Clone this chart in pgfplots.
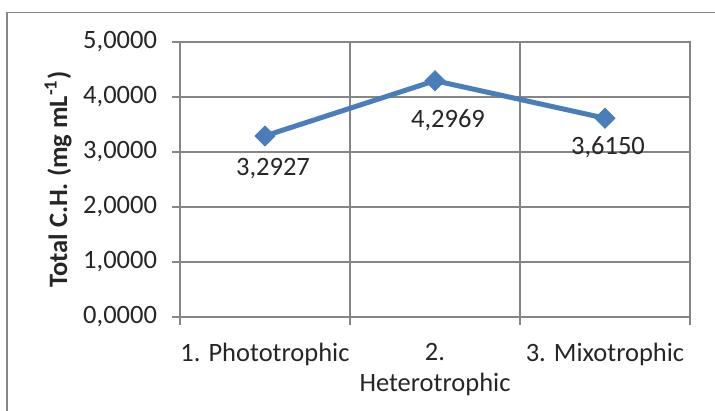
\documentclass[border=0pt]{standalone}
\usepackage{pgfplots}
\usepackage{pgfplotstable}
\pgfplotsset{compat=1.18}
\usepackage{fontspec}
\setmainfont{Carlito}
\definecolor{exblue}{RGB}{74,126,187}
\definecolor{exgrid}{RGB}{134,134,134}
\definecolor{extext}{RGB}{38,38,38}
\pgfplotstableread{
x y lab dx dy
0.5 3.2927 3,2927 4 -16.5
1.5 4.2969 4,2969 6.5 -20
2.5 3.6150 3,6150 1.5 -14.5
}\datatable
\begin{document}
\begin{tikzpicture}
\useasboundingbox (0,0) rectangle (357.5bp,205.5bp);
\draw[exgrid, line width=0.6bp] (3.5bp,-5bp) -- (3.5bp,199.3bp) -- (365bp,199.3bp);
\begin{axis}[
  at={(90bp,47bp)}, anchor=south west, scale only axis,
  width=255bp, height=137.5bp,
  xmin=0, xmax=3, ymin=0, ymax=5,
  xtick={0,1,2,3}, x tick label as interval,
  xticklabels={1. Phototrophic, {2.\\Heterotrophic}, 3. Mixotrophic},
  ytick={0,1,2,3,4,5},
  grid=major, grid style={exgrid, line width=0.6bp},
  axis line style={exgrid, line width=0.6bp},
  tick style={exgrid, line width=0.6bp},
  tick align=outside, major tick length=4bp,
  xtick pos=bottom, ytick pos=left,
  font=\fontsize{13.3}{15.5}\selectfont,
  xticklabel style={align=center, text=extext, yshift=-5.5bp, font=\fontsize{13.3}{15.5}\selectfont},
  yticklabel style={text=extext, xshift=-4bp, font=\fontsize{13.3}{15.5}\selectfont,
    /pgf/number format/.cd, fixed, fixed zerofill, precision=4, use comma, 1000 sep={}, assume math mode=true},
  ylabel={\textbf{Total C.H. (mg mL\textsuperscript{-1})}},
  ylabel style={at={(axis description cs:-0.239,0.5)}, anchor=center, text=extext, font=\fontsize{13.3}{15.5}\selectfont},
]
\addplot[exblue, line width=2.5bp, mark=square*, mark size=3.5bp,
  mark options={rotate=45, solid, fill=exblue, draw=exblue, line width=0.5bp},
  nodes near coords, point meta=explicit symbolic,
  visualization depends on={\thisrow{dx} \as \dx},
  visualization depends on={\thisrow{dy} \as \dy},
  every node near coord/.append style={anchor=center, xshift=\dx bp, yshift=\dy bp, text=extext, font=\fontsize{13.3}{15.5}\selectfont}]
  table[x=x, y=y, meta=lab]{\datatable};
\end{axis}
\end{tikzpicture}
\end{document}
